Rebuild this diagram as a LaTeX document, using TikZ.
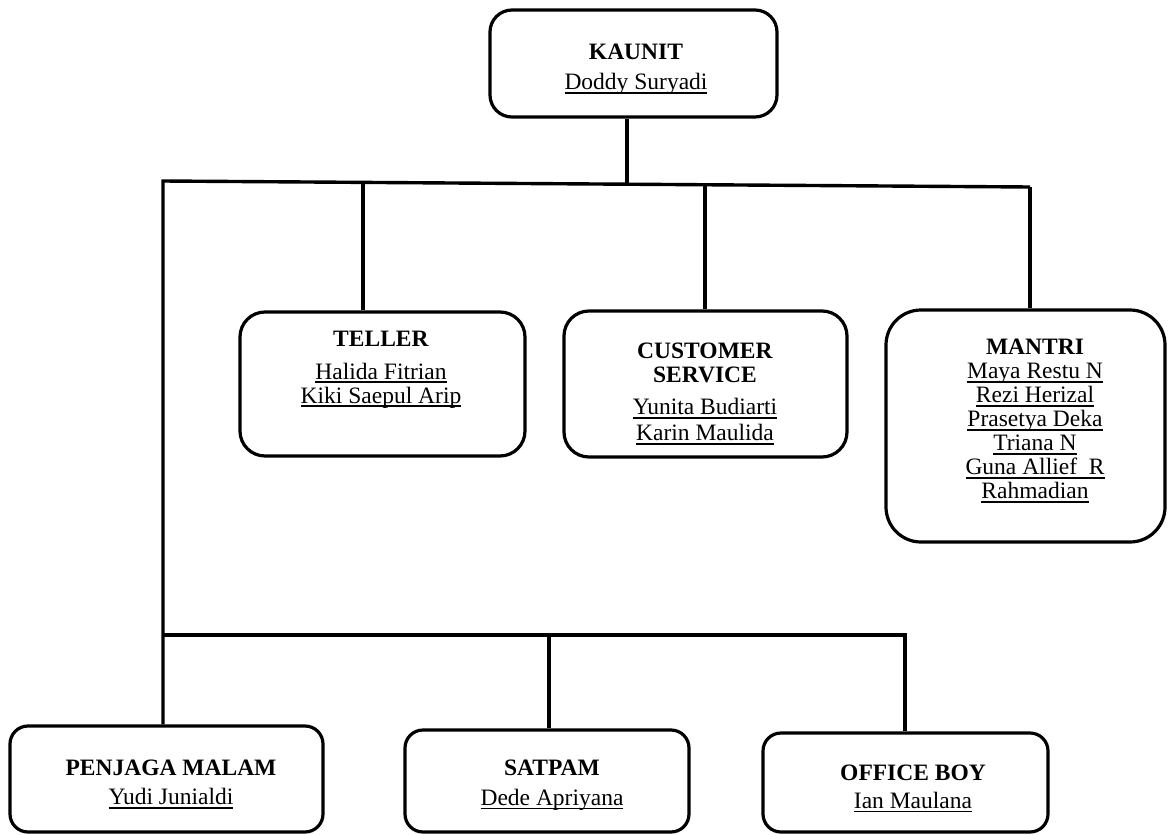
\documentclass[tikz,border=0pt]{standalone}
\usepackage{fontspec}
\setmainfont{Liberation Serif}
\newsavebox{\nmbox}
\newcommand{\nm}[1]{\sbox{\nmbox}{#1}\leavevmode\rlap{\vrule width\wd\nmbox height -2.3pt depth 3.8pt}\usebox{\nmbox}}
\begin{document}
\begin{tikzpicture}[x=1pt,y=-1pt,
  box/.style={draw=black,line width=3.2pt,rectangle,inner sep=0pt,fill=white},
  txt/.style={align=center,inner sep=0pt,font=\fontsize{23.5}{24}\selectfont},
  conn/.style={draw=black,line width=3.4pt,line join=miter}]
\useasboundingbox (0,0) rectangle (1168,835);
% boxes
\node[box,rounded corners=22pt,minimum width=287pt,minimum height=107pt] (kaunit) at (633.5,63.5) {};
\node[box,rounded corners=25pt,minimum width=285pt,minimum height=144pt] (teller) at (382.5,384) {};
\node[box,rounded corners=25pt,minimum width=283pt,minimum height=146pt] (cs) at (705.5,384) {};
\node[box,rounded corners=35pt,minimum width=279pt,minimum height=232pt] (mantri) at (1025.5,426) {};
\node[box,rounded corners=18pt,minimum width=313pt,minimum height=106pt] (penjaga) at (166.5,779) {};
\node[box,rounded corners=18pt,minimum width=284pt,minimum height=102pt] (satpam) at (547,781) {};
\node[box,rounded corners=18pt,minimum width=285pt,minimum height=99pt] (ob) at (905.5,782.5) {};
% texts
\node[txt] (tkaunit) at (636,69.5) {\textbf{KAUNIT}\\[6pt]\nm{Doddy Suryadi}};
\node[txt] (tteller) at (381,369.5) {\textbf{TELLER}\\[9pt]\nm{Halida Fitrian}\\\nm{Kiki Saepul Arip}};
\node[txt] (tcs) at (705,394) {\textbf{CUSTOMER}\\\textbf{SERVICE}\\[8pt]\nm{Yunita Budiarti}\\[2pt]\nm{Karin Maulida}};
\node[txt] (tmantri) at (1035,421) {\textbf{MANTRI}\\\nm{Maya Restu N}\\\nm{Rezi Herizal}\\\nm{Prasetya Deka}\\\nm{Triana N}\\\nm{Guna Allief\ \ R}\\\nm{Rahmadian}};
\node[txt] (tpenjaga) at (171,784.5) {\textbf{PENJAGA MALAM}\\[5pt]\nm{Yudi Junialdi}};
\node[txt] (tsatpam) at (552,785) {\textbf{SATPAM}\\[6pt]\nm{Dede Apriyana}};
\node[txt] (tob) at (913,788.5) {\textbf{OFFICE BOY}\\[4pt]\nm{Ian Maulana}};
% junction coordinates
\coordinate (tl) at (163,181);
\coordinate (tr) at (1030,187);
\coordinate (j0) at (627,184.2);
\coordinate (d1) at (363,182.4);
\coordinate (d2) at (705,184.7);
\coordinate (bl) at (163,635);
\coordinate (br) at (905,635);
\coordinate (d3) at (549,635);
% connectors
\draw[conn] (kaunit.south -| j0) -- (j0);
\draw[conn] (tr) -- (tl) -- (penjaga.north -| tl);
\draw[conn] (d1) -- (d1 |- teller.north);
\draw[conn] (d2) -- (d2 |- cs.north);
\draw[conn] (tr) -- (tr |- mantri.north);
\draw[conn] (bl) -- (br) -- (br |- ob.north);
\draw[conn] (d3) -- (d3 |- satpam.north);
\end{tikzpicture}
\end{document}
